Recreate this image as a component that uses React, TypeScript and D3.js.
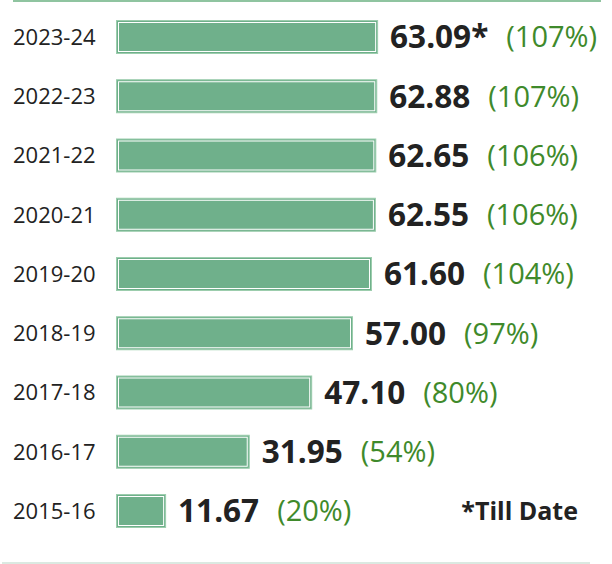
import React from "react";
import * as d3 from "d3";

const categories = ["2023-24", "2022-23", "2021-22", "2020-21", "2019-20", "2018-19", "2017-18", "2016-17", "2015-16"];
const values = [63.09, 62.88, 62.65, 62.55, 61.6, 57.0, 47.1, 31.95, 11.67];
const valueLabels = ["63.09*", "62.88", "62.65", "62.55", "61.60", "57.00", "47.10", "31.95", "11.67"];
const pctLabels = ["(107%)", "(107%)", "(106%)", "(106%)", "(104%)", "(97%)", "(80%)", "(54%)", "(20%)"];
const noteText = "*Till Date";

const W = 612;
const H = 564;
const FONT = "'Open Sans', 'Noto Sans', sans-serif";

export default function App() {
  const x = d3.scaleLinear().domain([0, 65]).range([117, 117 + 268]);
  const y = d3.scalePoint<string>().domain(categories).range([37, 511]);
  const barH = 32;

  const canvas = typeof document !== "undefined" ? document.createElement("canvas") : null;
  const ctx = canvas ? canvas.getContext("2d") : null;
  const measure = (t: string, font: string) => {
    if (!ctx) return t.length * 17;
    ctx.font = font;
    return ctx.measureText(t).width;
  };

  return (
    <svg width={W} height={H} style={{ position: "absolute", left: 0, top: 0, background: "#fff" }}>
      <line x1={13} x2={601} y1={1} y2={1} stroke="#8fc4a0" strokeWidth={2} />
      <line x1={2} x2={590} y1={563} y2={563} stroke="#dbe9e1" strokeWidth={2} />
      {categories.map((c, i) => {
        const cy = y(c)!;
        const x0 = x(0);
        const x1 = x(values[i]);
        const vx = x1 + 13;
        const vw = measure(valueLabels[i], `bold 31.5px ${FONT}`);
        const px = vx + vw + 18;
        return (
          <g key={c}>
            <text x={13} y={cy} dy="0.36em" fontFamily={FONT} fontSize={22} fill="#222">
              {c}
            </text>
            <rect x={x0 - 0.5} y={cy - barH / 2 - 0.5} width={x1 - x0 + 1} height={barH + 1} fill="#6fb08b" stroke="#9ccdad" strokeWidth={1} />
            <rect x={x0 + 1.5} y={cy - barH / 2 + 1.5} width={x1 - x0 - 3} height={barH - 3} fill="none" stroke="#ffffff" strokeWidth={1} />
            <text x={vx} y={cy} dy="0.36em" fontFamily={FONT} fontWeight={700} fontSize={31.5} fill="#222">
              {valueLabels[i]}
            </text>
            <text x={px} y={cy} dy="0.36em" fontFamily={FONT} fontSize={29} fill="#3f8a2b">
              {pctLabels[i]}
            </text>
          </g>
        );
      })}
      <text x={578} y={y(categories[8])!} dy="0.36em" textAnchor="end" fontFamily={FONT} fontWeight={700} fontSize={25} fill="#222">
        {noteText}
      </text>
    </svg>
  );
}
